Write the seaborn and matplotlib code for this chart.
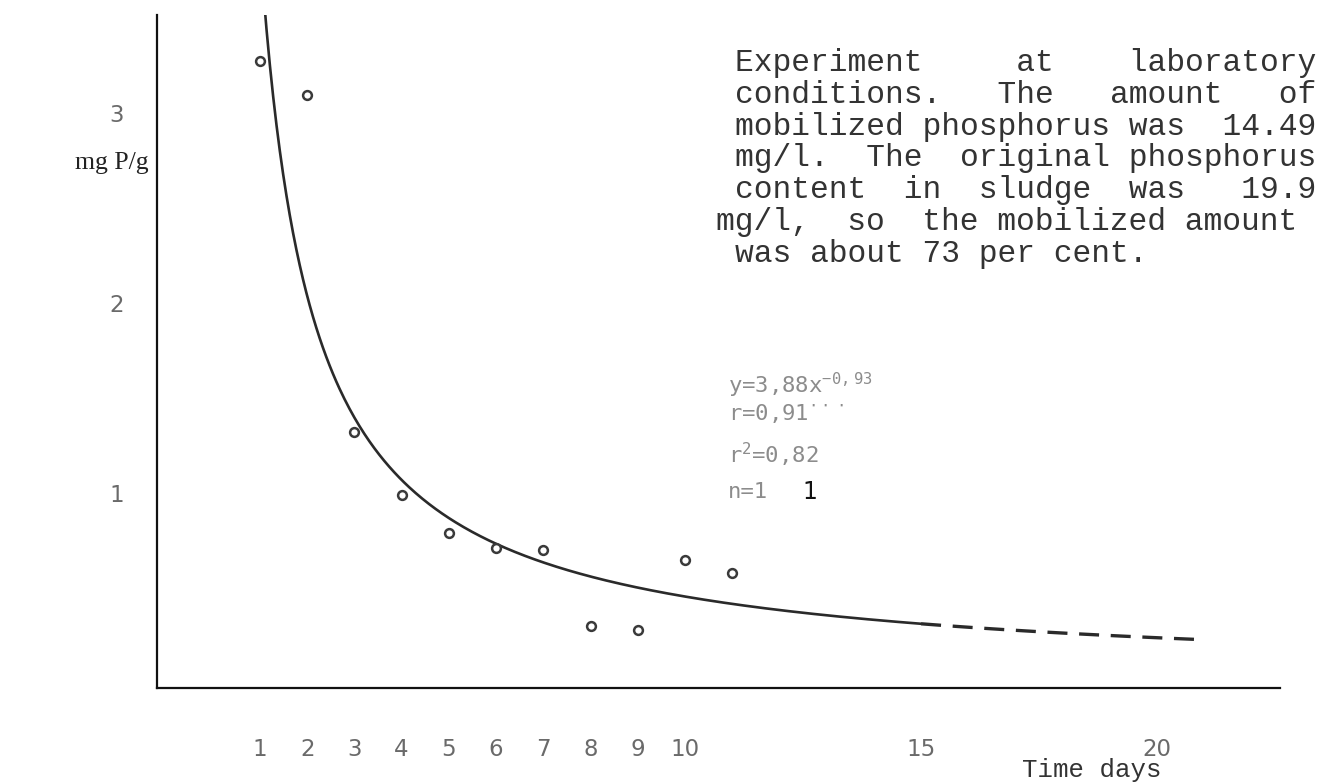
import numpy as np
import pandas as pd
import matplotlib
matplotlib.use("Agg")
import matplotlib.pyplot as plt
import seaborn as sns

# Measured phosphorus release (mg P/g) by day
days = [1, 2, 3, 4, 5, 6, 7, 8, 9, 10, 11]
p_released = [3.27, 3.09, 1.32, 0.99, 0.79, 0.71, 0.70, 0.30, 0.28, 0.65, 0.58]

# Power-law fit y = a * x^b
fit_a = 3.88
fit_b = -0.93
fit_solid_range = (1.0, 15.0)
fit_dashed_range = (15.0, 20.9)

x_ticks = [1, 2, 3, 4, 5, 6, 7, 8, 9, 10, 15, 20]
y_ticks = [1, 2, 3]

note_lines = [
    "Experiment     at    laboratory",
    "conditions.   The   amount   of",
    "mobilized phosphorus was  14.49",
    "mg/l.  The  original phosphorus",
    "content  in  sludge  was   19.9",
    "mg/l,  so  the mobilized amount",
    "was about 73 per cent.",
]
note_indent = [0, 0, 0, 0, 0, -1, 0]

stats_lines = [
    r"y=3,88x$^{-0,93}$",
    r"r=0,91$^{\cdot\cdot\cdot}$",
    r"r$^{2}$=0,82",
    "n=1",
]

sns.set_theme(style="white")
plt.rcParams["font.family"] = ["DejaVu Sans"]
plt.rcParams["mathtext.default"] = "regular"

W, H = 1330, 784
fig = plt.figure(figsize=(W / 100, H / 100), dpi=100)
ax = fig.add_axes([157 / W, 1 - 688 / H, (1280 - 157) / W, (688 - 15) / H])

fit_solid = pd.DataFrame({"x": np.linspace(*fit_solid_range, 400)})
fit_solid["y"] = fit_a * fit_solid["x"] ** fit_b
fit_dash = pd.DataFrame({"x": np.linspace(*fit_dashed_range, 100)})
fit_dash["y"] = fit_a * fit_dash["x"] ** fit_b

sns.lineplot(data=fit_solid, x="x", y="y", ax=ax, color="#2a2a2a", lw=1.9)
sns.lineplot(data=fit_dash, x="x", y="y", ax=ax, color="#2a2a2a", lw=2.4,
             linestyle=(0, (6, 3.5)))

obs = pd.DataFrame({"day": days, "p": p_released})
sns.scatterplot(data=obs, x="day", y="p", ax=ax, s=40, marker="o",
                facecolor="white", edgecolor="#3a3a3a", linewidth=1.8, zorder=5)

ax.set_xlim(-1.18, 22.6)
ax.set_ylim(-0.025, 3.513)

for side in ("top", "right"):
    ax.spines[side].set_visible(False)
for side in ("left", "bottom"):
    ax.spines[side].set_color("#111111")
    ax.spines[side].set_linewidth(1.6)

ax.set_xticks(x_ticks)
ax.set_xticklabels([str(t) for t in x_ticks])
ax.set_yticks(y_ticks)
ax.set_yticklabels([str(t) for t in y_ticks])
ax.tick_params(axis="x", direction="in", length=7, width=1.2, color="#777777",
               labelsize=16.5, labelcolor="#6a6a6a", pad=36)
ax.tick_params(axis="y", direction="out", length=7, width=1.4, color="#222222",
               labelsize=16.5, labelcolor="#6a6a6a", pad=17)

ax.set_ylabel("mg P/g", rotation=0, family="Liberation Serif", fontsize=18.5,
              color="#222222", ha="center", va="center")
ax.yaxis.set_label_coords(-0.040, 0.78)
ax.set_xlabel("Time days", family="Liberation Mono", fontsize=18.5,
              color="#333333", ha="center", va="center")
ax.xaxis.set_label_coords(0.8326, -0.122)

# Explanatory note, typed in a monospace face
char_w = 18.9
for i, (line, ind) in enumerate(zip(note_lines, note_indent)):
    x_px = 735 + ind * char_w
    y_px = 63 + i * 31.8
    fig.text(x_px / W, 1 - y_px / H, line, family="Liberation Mono",
             fontsize=22.5, color="#333333", ha="left", va="center")

# Regression statistics
stats_y = [385, 414, 455, 492]
for txt, y_px in zip(stats_lines, stats_y):
    fig.text(728 / W, 1 - y_px / H, txt, family="DejaVu Sans Mono",
             fontsize=16, color="#8c8c8c", ha="left", va="center")
fig.text(802 / W, 1 - 492 / H, "1", fontsize=17, color="#111111",
         ha="left", va="center")

fig.savefig("out.png", dpi=100, facecolor="white")
